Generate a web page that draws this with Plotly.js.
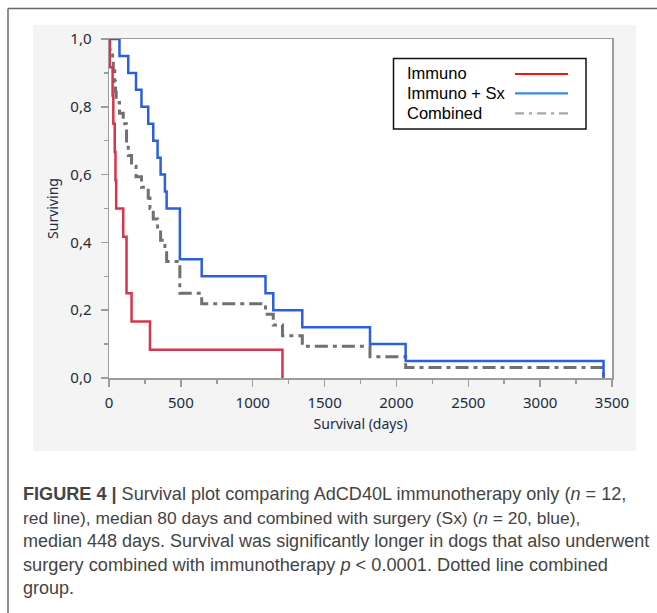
<!DOCTYPE html>
<html>
<head>
<meta charset="utf-8">
<script src="https://cdn.plot.ly/plotly-3.0.1.min.js"></script>
<style>html,body{margin:0;padding:0;background:#fff;}#chart{width:657px;height:613px;}</style>
</head>
<body>
<div id="chart"></div>
<script>
// ---- data ----
const seriesNames = ["Immuno", "Immuno + Sx", "Combined"];
const immunoDays = [0, 5, 25, 30, 40, 45, 50, 99, 122, 157, 285, 1207];
const immunoSurv = [1, 0.917, 0.833, 0.75, 0.667, 0.583, 0.5, 0.417, 0.25, 0.167, 0.083, 0];
const sxDays = [0, 73, 134, 188, 226, 273, 308, 338, 359, 389, 401, 493, 645, 1089, 1143, 1345, 1816, 2064, 3441];
const sxSurv = [1, 0.95, 0.9, 0.85, 0.8, 0.75, 0.7, 0.65, 0.6, 0.55, 0.5, 0.35, 0.3, 0.25, 0.2, 0.15, 0.1, 0.05, 0];
const combDays = [0, 5, 25, 30, 40, 45, 50, 73, 99, 122, 134, 157, 188, 226, 273, 285, 308, 338, 359, 389, 401, 493, 645, 1089, 1143, 1207, 1345, 1816, 2064, 3441];
const combSurv = [1, 0.969, 0.938, 0.906, 0.875, 0.844, 0.813, 0.781, 0.75, 0.688, 0.656, 0.625, 0.594, 0.563, 0.531, 0.5, 0.469, 0.438, 0.406, 0.375, 0.344, 0.25, 0.219, 0.188, 0.156, 0.125, 0.094, 0.063, 0.031, 0];
const xTickVals = [0, 500, 1000, 1500, 2000, 2500, 3000, 3500];
const xTickText = ["0", "500", "1000", "1500", "2000", "2500", "3000", "3500"];
const yTickVals = [0, 0.2, 0.4, 0.6, 0.8, 1.0];
const yTickText = ["0,0", "0,2", "0,4", "0,6", "0,8", "1,0"];
const xTitle = "Survival (days)";
const yTitle = "Surviving";
const captionLines = [
  "<b>FIGURE 4 |</b> Survival plot comparing AdCD40L immunotherapy only (<i>n</i> = 12,",
  "red line), median 80 days and combined with surgery (Sx) (<i>n</i> = 20, blue),",
  "median 448 days. Survival was significantly longer in dogs that also underwent",
  "surgery combined with immunotherapy <i>p</i> &lt; 0.0001. Dotted line combined",
  "group."
];

// ---- layout helpers (pixel -> paper) ----
const L = 109, R = 612, T = 39, B = 378;
const px = X => (X - L) / (R - L);
const py = Y => (B - Y) / (B - T);

const RED = "#d8344a", BLUE = "#2b5fe0", GRAY = "#707070";
const tickFont = {family: "Noto Sans, DejaVu Sans, sans-serif", size: 15, color: "#222b3c"};

const traces = [
  {x: combDays, y: combSurv, name: seriesNames[2], mode: "lines", line: {shape: "hv", color: GRAY, width: 3, dash: "13px,5px,4px,5px"}, hoverinfo: "skip"},
  {x: immunoDays, y: immunoSurv, name: seriesNames[0], mode: "lines", line: {shape: "hv", color: RED, width: 2.5}, hoverinfo: "skip"},
  {x: sxDays, y: sxSurv, name: seriesNames[1], mode: "lines", line: {shape: "hv", color: BLUE, width: 2.5}, hoverinfo: "skip"}
];

const shapes = [
  {type: "rect", xref: "paper", yref: "paper", x0: px(33), x1: px(636), y0: py(451), y1: py(25), fillcolor: "#f4f4f4", line: {width: 0}, layer: "below"},
  {type: "rect", xref: "paper", yref: "paper", x0: 0, x1: 1, y0: 0, y1: 1, fillcolor: "#ffffff", line: {width: 0}, layer: "below"},
  {type: "line", xref: "paper", yref: "paper", x0: px(8), x1: px(660), y0: py(8.5), y1: py(8.5), line: {color: "#6a6a6a", width: 1.5}},
  {type: "line", xref: "paper", yref: "paper", x0: px(8), x1: px(8), y0: py(8.5), y1: py(615), line: {color: "#6a6a6a", width: 1.5}},
  // legend box
  {type: "rect", xref: "paper", yref: "paper", x0: px(393.5), x1: px(586), y0: py(129), y1: py(58.5), fillcolor: "#ffffff", line: {color: "#111", width: 1.5}},
  {type: "line", xref: "paper", yref: "paper", x0: px(515), x1: px(568), y0: py(74), y1: py(74), line: {color: "#ff1010", width: 2.2}},
  {type: "line", xref: "paper", yref: "paper", x0: px(515), x1: px(568), y0: py(93.3), y1: py(93.3), line: {color: "#3a8ee0", width: 2.2}},
  {type: "line", xref: "paper", yref: "paper", x0: px(515), x1: px(568), y0: py(113.3), y1: py(113.3), line: {color: "#a8a8a8", width: 2.2, dash: "9px,5px,3px,5px"}}
];

const legFont = {family: "Liberation Sans, Arial, sans-serif", size: 16.5, color: "#000"};
const annotations = [
  {xref: "paper", yref: "paper", x: px(405), y: py(73), xanchor: "left", yanchor: "middle", text: seriesNames[0], showarrow: false, font: legFont},
  {xref: "paper", yref: "paper", x: px(405), y: py(93), xanchor: "left", yanchor: "middle", text: seriesNames[1], showarrow: false, font: legFont},
  {xref: "paper", yref: "paper", x: px(405), y: py(112.5), xanchor: "left", yanchor: "middle", text: seriesNames[2], showarrow: false, font: legFont}
];
const capSizes = [18.1, 17.4, 18.0, 18.2, 18.0];
const capBase = [500, 524, 547.5, 571, 594.5];
captionLines.forEach((t, i) => {
  annotations.push({xref: "paper", yref: "paper", x: px(21), y: py(capBase[i] - 6.5), xanchor: "left", yanchor: "middle", text: t, showarrow: false,
    font: {family: "Liberation Sans, Arial, sans-serif", size: capSizes[i], color: "#444"}, align: "left"});
});

const axisCommon = {
  showline: true, linecolor: "#9c9c9c", linewidth: 1.5, mirror: true,
  ticks: "outside", tickcolor: "#9c9c9c", tickwidth: 1.5, ticklen: 7,
  showgrid: false, zeroline: false, tickfont: tickFont, fixedrange: true
};

const layout = {
  width: 657, height: 613,
  margin: {l: L, r: 657 - R, t: T, b: 613 - B, pad: 0},
  paper_bgcolor: "#ffffff", plot_bgcolor: "rgba(0,0,0,0)",
  showlegend: false,
  xaxis: Object.assign({}, axisCommon, {
    range: [0, 3500], tickvals: xTickVals, ticktext: xTickText, ticklabelstandoff: 3,
    minor: {dtick: 250, tick0: 0, ticks: "outside", ticklen: 4, tickcolor: "#9c9c9c", tickwidth: 1.5, showgrid: false},
    title: {text: xTitle, font: {family: "Noto Sans, DejaVu Sans, sans-serif", size: 14, color: "#222b3c"}, standoff: 8}
  }),
  yaxis: Object.assign({}, axisCommon, {
    range: [0, 1], tickvals: yTickVals, ticktext: yTickText, ticklabelstandoff: 6,
    minor: {dtick: 0.1, tick0: 0, ticks: "outside", ticklen: 4, tickcolor: "#9c9c9c", tickwidth: 1.5, showgrid: false},
    title: {text: yTitle, font: {family: "Noto Sans, DejaVu Sans, sans-serif", size: 14, color: "#222b3c"}, standoff: 8}
  }),
  shapes: shapes,
  annotations: annotations
};

Plotly.newPlot("chart", traces, layout, {staticPlot: true, displayModeBar: false});
</script>
</body>
</html>
